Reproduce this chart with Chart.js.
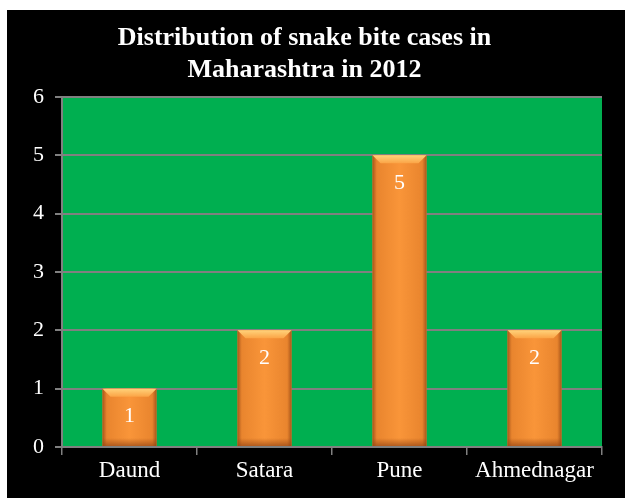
<!DOCTYPE html>
<html>
<head>
<meta charset="utf-8">
<script src="https://cdn.jsdelivr.net/npm/chart.js@4"></script>
<style>
  html, body { margin: 0; padding: 0; background: #fff; }
  #wrap { position: absolute; left: 7px; top: 10px; width: 618px; height: 488px; background: #000; }
</style>
</head>
<body>
<div id="wrap"><canvas id="grafico" width="618" height="488"></canvas></div>
<script>
// dados do gráfico
const districts = ['Daund', 'Satara', 'Pune', 'Ahmednagar'];
const cases = [1, 2, 5, 2];
const titleLines = ['Distribution of snake bite cases in', 'Maharashtra in 2012'];

const serif = "'Liberation Serif', 'Times New Roman', serif";
const gridGray = '#808080';

// fundo verde da área do gráfico
const plotBackground = {
  id: 'plotBackground',
  beforeDraw(chart) {
    const { ctx, chartArea } = chart;
    ctx.save();
    ctx.fillStyle = '#00AF50';
    ctx.fillRect(chartArea.left, chartArea.top, chartArea.right - chartArea.left, chartArea.bottom - chartArea.top);
    ctx.restore();
  }
};

// efeito de bisel nas barras + rótulos de valor
const bevelBars = {
  id: 'bevelBars',
  afterDatasetsDraw(chart) {
    const ctx = chart.ctx;
    const meta = chart.getDatasetMeta(0);
    meta.data.forEach((bar, i) => {
      const left = bar.x - bar.width / 2;
      const right = bar.x + bar.width / 2;
      const top = bar.y;
      const bottom = bar.base;
      ctx.save();
      let g = ctx.createLinearGradient(left, 0, right, 0);
      g.addColorStop(0, '#A9561A');
      g.addColorStop(0.08, '#E9852E');
      g.addColorStop(0.5, '#F99539');
      g.addColorStop(0.92, '#E9852E');
      g.addColorStop(1, '#A9561A');
      ctx.fillStyle = g;
      ctx.fillRect(left, top, right - left, bottom - top);

      // sombra embaixo
      let gb = ctx.createLinearGradient(0, bottom - 8, 0, bottom);
      gb.addColorStop(0, 'rgba(150,70,20,0)');
      gb.addColorStop(1, 'rgba(150,70,20,0.7)');
      ctx.fillStyle = gb;
      ctx.fillRect(left, bottom - 8, right - left, 8);

      // brilho no topo
      const b = 8;
      let gt = ctx.createLinearGradient(0, top, 0, top + b);
      gt.addColorStop(0, '#FFD27A');
      gt.addColorStop(1, '#FBA446');
      ctx.fillStyle = gt;
      ctx.beginPath();
      ctx.moveTo(left, top);
      ctx.lineTo(right, top);
      ctx.lineTo(right - b, top + b);
      ctx.lineTo(left + b, top + b);
      ctx.closePath();
      ctx.fill();

      // valor
      ctx.fillStyle = '#fff';
      ctx.font = '22px ' + serif;
      ctx.textAlign = 'center';
      ctx.textBaseline = 'middle';
      ctx.fillText(String(cases[i]), bar.x, top + 28);
      ctx.restore();
    });
  }
};

new Chart(document.getElementById('grafico'), {
  type: 'bar',
  data: {
    labels: districts,
    datasets: [{
      data: cases,
      backgroundColor: '#F79646',
      categoryPercentage: 1,
      barPercentage: 0.4
    }]
  },
  options: {
    responsive: false,
    animation: false,
    layout: { padding: { left: 0, right: 23, top: 0, bottom: 0 } },
    plugins: {
      legend: { display: false },
      tooltip: { enabled: false },
      title: {
        display: true,
        text: titleLines,
        color: '#fff',
        font: { family: serif, size: 26, weight: 'bold', lineHeight: 1.23 },
        padding: { top: 12, bottom: 11 }
      }
    },
    scales: {
      x: {
        grid: { drawOnChartArea: false, drawTicks: true, tickLength: 8, color: gridGray, lineWidth: 1.5 },
        border: { color: gridGray, width: 2 },
        ticks: { color: '#fff', font: { family: serif, size: 23 }, padding: 2 },
        afterFit(scale) { scale.height = 51; }
      },
      y: {
        min: 0,
        max: 6,
        ticks: { stepSize: 1, color: '#fff', font: { family: serif, size: 22 }, padding: 11 },
        grid: { color: gridGray, tickLength: 7, lineWidth: 2 },
        border: { color: gridGray, width: 2 },
        afterFit(scale) { scale.width = 55; }
      }
    }
  },
  plugins: [plotBackground, bevelBars]
});
</script>
</body>
</html>
